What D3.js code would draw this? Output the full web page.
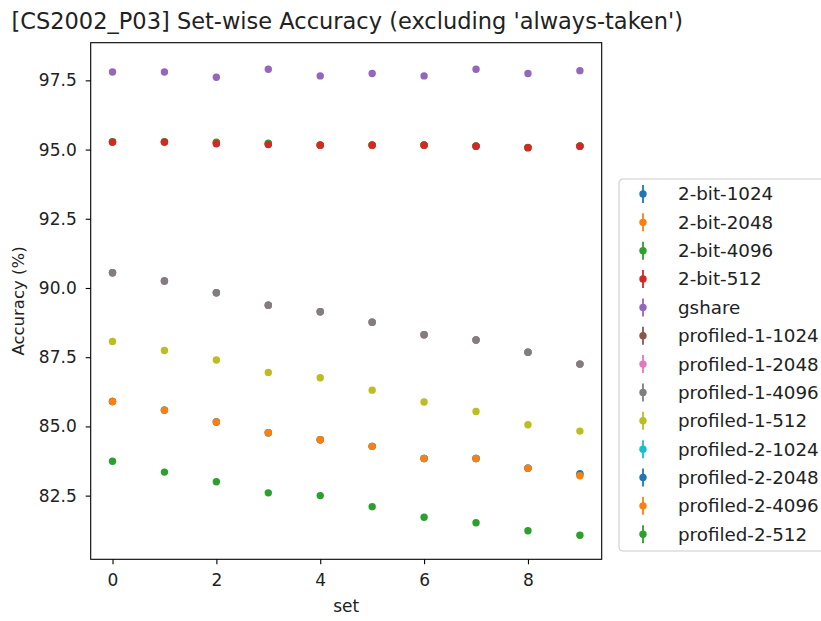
<!DOCTYPE html>
<html>
<head>
<meta charset="utf-8">
<script src="https://cdn.jsdelivr.net/npm/d3@7"></script>
<style>
  body { margin: 0; background: #fff; }
  svg { font-family: 'DejaVu Sans', sans-serif; }
</style>
</head>
<body>
<div id="chart"></div>
<script>
// data
const sets = [0, 1, 2, 3, 4, 5, 6, 7, 8, 9]
const seriesNames = ['2-bit-1024', '2-bit-2048', '2-bit-4096', '2-bit-512', 'gshare',
  'profiled-1-1024', 'profiled-1-2048', 'profiled-1-4096', 'profiled-1-512',
  'profiled-2-1024', 'profiled-2-2048', 'profiled-2-4096', 'profiled-2-512']

const twoBit1024 = [95.27, 95.27, 95.24, 95.2, 95.16, 95.16, 95.16, 95.12, 95.07, 95.12]
const twoBit2048 = [95.27, 95.27, 95.25, 95.21, 95.16, 95.16, 95.16, 95.12, 95.07, 95.12]
const twoBit4096 = [95.28, 95.28, 95.27, 95.23, 95.17, 95.17, 95.17, 95.13, 95.08, 95.13]
const twoBit512 = [95.27, 95.27, 95.21, 95.18, 95.16, 95.16, 95.16, 95.12, 95.07, 95.12]
const gshare = [97.80, 97.80, 97.61, 97.90, 97.66, 97.75, 97.66, 97.90, 97.75, 97.85]
const prof1_1024 = [90.55, 90.25, 89.83, 89.38, 89.14, 88.76, 88.31, 88.12, 87.68, 87.25]
const prof1_2048 = [90.55, 90.25, 89.83, 89.38, 89.14, 88.76, 88.31, 88.12, 87.68, 87.25]
const prof1_4096 = [90.55, 90.25, 89.83, 89.38, 89.14, 88.76, 88.31, 88.12, 87.68, 87.25]
const prof1_512 = [88.07, 87.74, 87.40, 86.95, 86.76, 86.31, 85.88, 85.54, 85.06, 84.83]
const prof2_1024 = [85.90, 85.59, 85.16, 84.77, 84.52, 84.28, 83.84, 83.84, 83.49, 83.25]
const prof2_2048 = [85.90, 85.59, 85.16, 84.77, 84.52, 84.28, 83.84, 83.84, 83.49, 83.29]
const prof2_4096 = [85.90, 85.59, 85.16, 84.77, 84.52, 84.28, 83.84, 83.84, 83.49, 83.22]
const prof2_512 = [83.74, 83.35, 83.00, 82.60, 82.50, 82.10, 81.72, 81.52, 81.23, 81.07]

const seriesValues = [twoBit1024, twoBit2048, twoBit4096, twoBit512, gshare,
  prof1_1024, prof1_2048, prof1_4096, prof1_512,
  prof2_1024, prof2_2048, prof2_4096, prof2_512]

const xTicks = [0, 2, 4, 6, 8]
const yTicks = [82.5, 85.0, 87.5, 90.0, 92.5, 95.0, 97.5]

const tab10 = ['#1f77b4', '#ff7f0e', '#2ca02c', '#d62728', '#9467bd',
  '#8c564b', '#e377c2', '#7f7f7f', '#bcbd22', '#17becf']

const fullWidth = 821, fullHeight = 621
const margin = { top: 42.7, left: 90.7 }
const width = 511, height = 516.6

const x = d3.scaleLinear().domain([-0.42, 9.42]).range([0, width])
const y = d3.scaleLinear().domain([80.2, 98.86]).range([height, 0])
const color = d3.scaleOrdinal(tab10).domain(d3.range(seriesNames.length))

const svg = d3.select('#chart')
  .append('svg')
  .attr('width', fullWidth)
  .attr('height', fullHeight)

svg.append('text')
  .attr('x', margin.left + width / 2 + 1)
  .attr('y', 28.5)
  .attr('text-anchor', 'middle')
  .style('font-size', '22.5px')
  .style('fill', '#222')
  .text("[CS2002_P03] Set-wise Accuracy (excluding 'always-taken')")

const g = svg.append('g')
  .attr('transform', `translate(${margin.left}, ${margin.top})`)

// points, drawn in series order so later series sit on top
const data = seriesNames.map((name, i) => ({
  name,
  i,
  points: sets.map((s, j) => ({ s, v: seriesValues[i][j] }))
}))

g.selectAll('.series')
  .data(data)
  .enter()
  .append('g')
  .attr('class', 'series')
  .style('fill', d => color(d.i))
  .selectAll('circle')
  .data(d => d.points)
  .enter()
  .append('circle')
  .attr('cx', d => x(d.s))
  .attr('cy', d => y(d.v))
  .attr('r', 3.7)

// axes
const xAxis = g.append('g')
  .attr('transform', `translate(0, ${height})`)
  .call(d3.axisBottom(x).tickValues(xTicks).tickSize(5).tickPadding(10).tickFormat(d3.format('d')))
const yAxis = g.append('g')
  .call(d3.axisLeft(y).tickValues(yTicks).tickSize(5).tickPadding(9).tickFormat(d3.format('.1f')))

;[xAxis, yAxis].forEach(a => {
  a.select('.domain').remove()
  a.selectAll('line').attr('stroke', '#000').attr('stroke-width', 1.1)
  a.selectAll('text').style('font-size', '17px').style('fill', '#222').attr('font-family', 'DejaVu Sans')
})

g.append('rect')
  .attr('width', width)
  .attr('height', height)
  .attr('fill', 'none')
  .attr('stroke', '#000')
  .attr('stroke-width', 1.1)

svg.append('text')
  .attr('x', margin.left + width / 2)
  .attr('y', 612)
  .attr('text-anchor', 'middle')
  .style('font-size', '17px')
  .style('fill', '#222')
  .text('set')

svg.append('text')
  .attr('transform', `translate(24, ${margin.top + height / 2}) rotate(-90)`)
  .attr('text-anchor', 'middle')
  .style('font-size', '16.5px')
  .style('fill', '#222')
  .text('Accuracy (%)')

// legend
const legend = svg.append('g')
  .attr('transform', 'translate(619, 179)')

legend.append('rect')
  .attr('width', 230)
  .attr('height', 372)
  .attr('rx', 4)
  .attr('fill', '#fff')
  .attr('fill-opacity', 0.8)
  .attr('stroke', '#ccc')
  .attr('stroke-width', 1.1)

const item = legend.selectAll('.legend-item')
  .data(data)
  .enter()
  .append('g')
  .attr('class', 'legend-item')
  .attr('transform', (d, i) => `translate(24, ${15 + i * 28.35})`)

item.append('line')
  .attr('y1', -9)
  .attr('y2', 9)
  .attr('stroke', d => color(d.i))
  .attr('stroke-width', 1.8)

item.append('circle')
  .attr('r', 3.7)
  .attr('fill', d => color(d.i))

item.append('text')
  .attr('x', 35)
  .attr('dy', '0.35em')
  .style('font-size', '18.3px')
  .style('fill', '#222')
  .text(d => d.name)
</script>
</body>
</html>
